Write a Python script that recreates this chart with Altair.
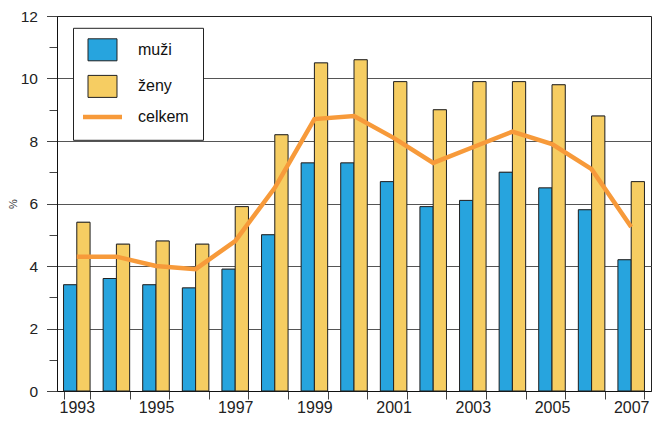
import altair as alt
import pandas as pd

years = list(range(1993, 2008))
muzi = [3.4, 3.6, 3.4, 3.3, 3.9, 5.0, 7.3, 7.3, 6.7, 5.9, 6.1, 7.0, 6.5, 5.8, 4.2]
zeny = [5.4, 4.7, 4.8, 4.7, 5.9, 8.2, 10.5, 10.6, 9.9, 9.0, 9.9, 9.9, 9.8, 8.8, 6.7]
celkem = [4.3, 4.3, 4.0, 3.9, 4.8, 6.5, 8.7, 8.8, 8.1, 7.3, 7.8, 8.3, 7.9, 7.1, 5.25]
bar_series = ["muži", "ženy"]
line_series = "celkem"
legend_items = bar_series + [line_series]
y_ticks = list(range(0, 13))

BLUE = "#27a4de"
YELLOW = "#f6cd62"
ORANGE = "#f79a3a"
FONT = "Liberation Sans"

RECT = "M-1.933,-1.467L1.933,-1.467L1.933,1.467L-1.933,1.467Z"
LINE = "M-2.6,-0.3L2.6,-0.3L2.6,0.3L-2.6,0.3Z"

bars_df = pd.DataFrame({
    "rok": years * 2,
    "serie": [bar_series[0]] * len(years) + [bar_series[1]] * len(years),
    "hodnota": muzi + zeny,
})
line_df = pd.DataFrame({
    "rok": years,
    "serie": [line_series] * len(years),
    "hodnota": celkem,
})

x_enc = alt.X(
    "rok:O",
    scale=alt.Scale(paddingInner=0.33, paddingOuter=0.165),
    axis=alt.Axis(
        title=None, labelAngle=0, tickBand="extent", tickSize=8,
        labelFontSize=16, labelPadding=0, labelOverlap=False,
        labelExpr="datum.value % 2 == 1 ? datum.label : ''",
        grid=False, domainColor="#111", tickColor="#444",
    ),
)
y_enc = alt.Y(
    "hodnota:Q",
    scale=alt.Scale(domain=[0, 12], nice=False),
    axis=alt.Axis(
        values=y_ticks, title="%", titleFontSize=11, titleFontWeight="normal",
        titleX=-44, titleBaseline="middle", titleColor="#333",
        labelFontSize=15.5, labelPadding=9,
        labelExpr="datum.value % 2 == 0 ? datum.label : ''",
        tickSize={"condition": {"test": "datum.value % 2 == 1", "value": 8}, "value": 10.5},
        gridOpacity={"condition": {"test": "datum.value % 2 == 1 || datum.value == 0 || datum.value == 12", "value": 0}, "value": 1},
        gridColor="#555", domainColor="#111", tickColor="#444",
    ),
)

shadow = alt.Chart(bars_df).mark_bar(fill="#8a8a8a", xOffset=1.5, yOffset=-0.5).encode(
    x=x_enc,
    y=y_enc,
    xOffset=alt.XOffset("serie:N", sort=bar_series, scale=alt.Scale(paddingInner=0, paddingOuter=0)),
)

bars = alt.Chart(bars_df).mark_bar(stroke="#222").encode(
    x=x_enc,
    y=y_enc,
    xOffset=alt.XOffset("serie:N", sort=bar_series, scale=alt.Scale(paddingInner=0, paddingOuter=0)),
    fill=alt.Fill(
        "serie:N",
        scale=alt.Scale(domain=legend_items, range=[BLUE, YELLOW, ORANGE]),
        legend=alt.Legend(
            orient="none", legendX=16, legendY=11.8, title=None,
            strokeColor="#222", fillColor="white", padding=14,
            symbolType={"expr": f"datum.value == '{line_series}' ? '{LINE}' : '{RECT}'"},
            symbolStrokeColor={"expr": f"datum.value == '{line_series}' ? 'transparent' : '#222'"},
            symbolSize=225, symbolStrokeWidth=1, symbolOpacity=1, symbolOffset=7.5,
            labelFontSize=16, labelFont=FONT, labelColor="#111",
            labelOffset=27.5, rowPadding=8.6,
        ),
    ),
)

line = alt.Chart(line_df).mark_line(color=ORANGE, strokeWidth=4.5).encode(
    x=x_enc,
    y=y_enc,
)

chart = alt.layer(shadow, bars, line).properties(
    width=594, height=375,
    autosize=alt.AutoSizeParams(type="none"),
    padding={"left": 49, "top": 8, "right": 2, "bottom": 25},
    background="white",
).configure_view(
    stroke="#222", strokeWidth=1,
).configure_axis(
    labelFont=FONT, titleFont=FONT, labelColor="#222",
).configure_legend(
    labelFont=FONT,
)

chart.save("out.html", embed_options={"renderer": "svg", "actions": False})
